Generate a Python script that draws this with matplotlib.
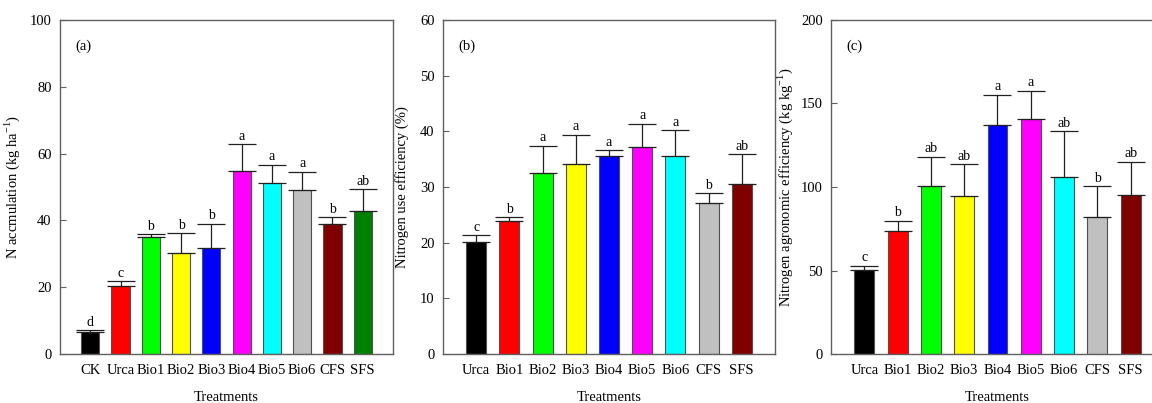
import matplotlib
matplotlib.use("Agg")
import matplotlib.pyplot as plt

plt.rcParams['font.family'] = ['Liberation Serif', 'DejaVu Serif']
plt.rcParams['mathtext.fontset'] = 'custom'
plt.rcParams['mathtext.rm'] = 'Liberation Serif'

# Panel (a)
cats_a = ['CK', 'Urca', 'Bio1', 'Bio2', 'Bio3', 'Bio4', 'Bio5', 'Bio6', 'CFS', 'SFS']
vals_a = [6.5, 20.4, 34.9, 30.2, 31.6, 54.7, 51.1, 49.1, 38.9, 42.9]
errs_a = [0.7, 1.5, 0.9, 6.0, 7.4, 8.1, 5.6, 5.5, 2.0, 6.4]
lets_a = ['d', 'c', 'b', 'b', 'b', 'a', 'a', 'a', 'b', 'ab']
cols_a = ['#000000', '#ff0000', '#00ff00', '#ffff00', '#0000ff', '#ff00ff',
          '#00ffff', '#c0c0c0', '#800000', '#008000']

# Panel (b)
cats_b = ['Urca', 'Bio1', 'Bio2', 'Bio3', 'Bio4', 'Bio5', 'Bio6', 'CFS', 'SFS']
vals_b = [20.1, 23.9, 32.5, 34.1, 35.5, 37.2, 35.6, 27.2, 30.5]
errs_b = [1.2, 0.7, 4.9, 5.3, 1.1, 4.2, 4.6, 1.7, 5.4]
lets_b = ['c', 'b', 'a', 'a', 'a', 'a', 'a', 'b', 'ab']
cols_b = ['#000000', '#ff0000', '#00ff00', '#ffff00', '#0000ff', '#ff00ff',
          '#00ffff', '#c0c0c0', '#800000']

# Panel (c)
cats_c = ['Urca', 'Bio1', 'Bio2', 'Bio3', 'Bio4', 'Bio5', 'Bio6', 'CFS', 'SFS']
vals_c = [50.3, 73.7, 100.6, 94.8, 137.1, 140.7, 106.2, 82.2, 95.2]
errs_c = [2.6, 6.1, 17.6, 18.8, 18.2, 17.0, 27.1, 18.2, 20.0]
lets_c = ['c', 'b', 'ab', 'ab', 'a', 'a', 'ab', 'b', 'ab']
cols_c = ['#000000', '#ff0000', '#00ff00', '#ffff00', '#0000ff', '#ff00ff',
          '#00ffff', '#c0c0c0', '#800000']

fig = plt.figure(figsize=(11.52, 4.03), dpi=100)
H = 403.0
W = 1152.0
bottom = 1 - 354 / H
height = (354 - 20) / H

panels = [
    (60, 393, cats_a, vals_a, errs_a, lets_a, cols_a, 100, 20, '(a)',
     'N accmulation (kg ha$^{-1}$)', 22),
    (443, 775, cats_b, vals_b, errs_b, lets_b, cols_b, 60, 10, '(b)',
     'Nitrogen use efficiency (%)', 409),
    (831, 1164, cats_c, vals_c, errs_c, lets_c, cols_c, 200, 50, '(c)',
     'Nitrogen agronomic efficiency (kg kg$^{-1}$)', 795),
]

frame_col = '#606060'
for (l, r, cats, vals, errs, lets, cols, ymax, step, tag, ylab, ylx) in panels:
    ax = fig.add_axes([l / W, bottom, (r - l) / W, height])
    x = list(range(len(cats)))
    ax.bar(x, vals, width=0.6, color=cols, edgecolor='#505050', linewidth=0.8,
           zorder=2)
    ax.errorbar(x, vals, yerr=[[0] * len(errs), errs], fmt='none',
                ecolor='#202020', elinewidth=0.9, capsize=10, capthick=0.9,
                zorder=3)
    for xi, v, e, t in zip(x, vals, errs, lets):
        ax.text(xi, v + e + ymax * 0.004, t, ha='center', va='bottom',
                fontsize=10)
    ax.set_xlim(-1, len(cats))
    ax.set_ylim(0, ymax)
    ax.set_yticks(list(range(0, ymax + 1, step)))
    ax.set_xticks(x)
    ax.set_xticklabels(cats, fontsize=10.5)
    ax.tick_params(axis='x', length=0, pad=7)
    ax.tick_params(axis='y', direction='in', length=4, width=0.8,
                   color=frame_col, labelsize=10.5, pad=6)
    for s in ax.spines.values():
        s.set_color(frame_col)
        s.set_linewidth(1.0)
    ax.set_xlabel('Treatments', fontsize=10.5, labelpad=10)
    ax.set_ylabel(ylab, fontsize=10.5)
    ax.yaxis.set_label_coords((ylx - l) / (r - l), 0.5)
    ax.text(0.045, 0.92, tag, transform=ax.transAxes, fontsize=10.5,
            ha='left', va='center')

fig.savefig('out.png', dpi=100)
